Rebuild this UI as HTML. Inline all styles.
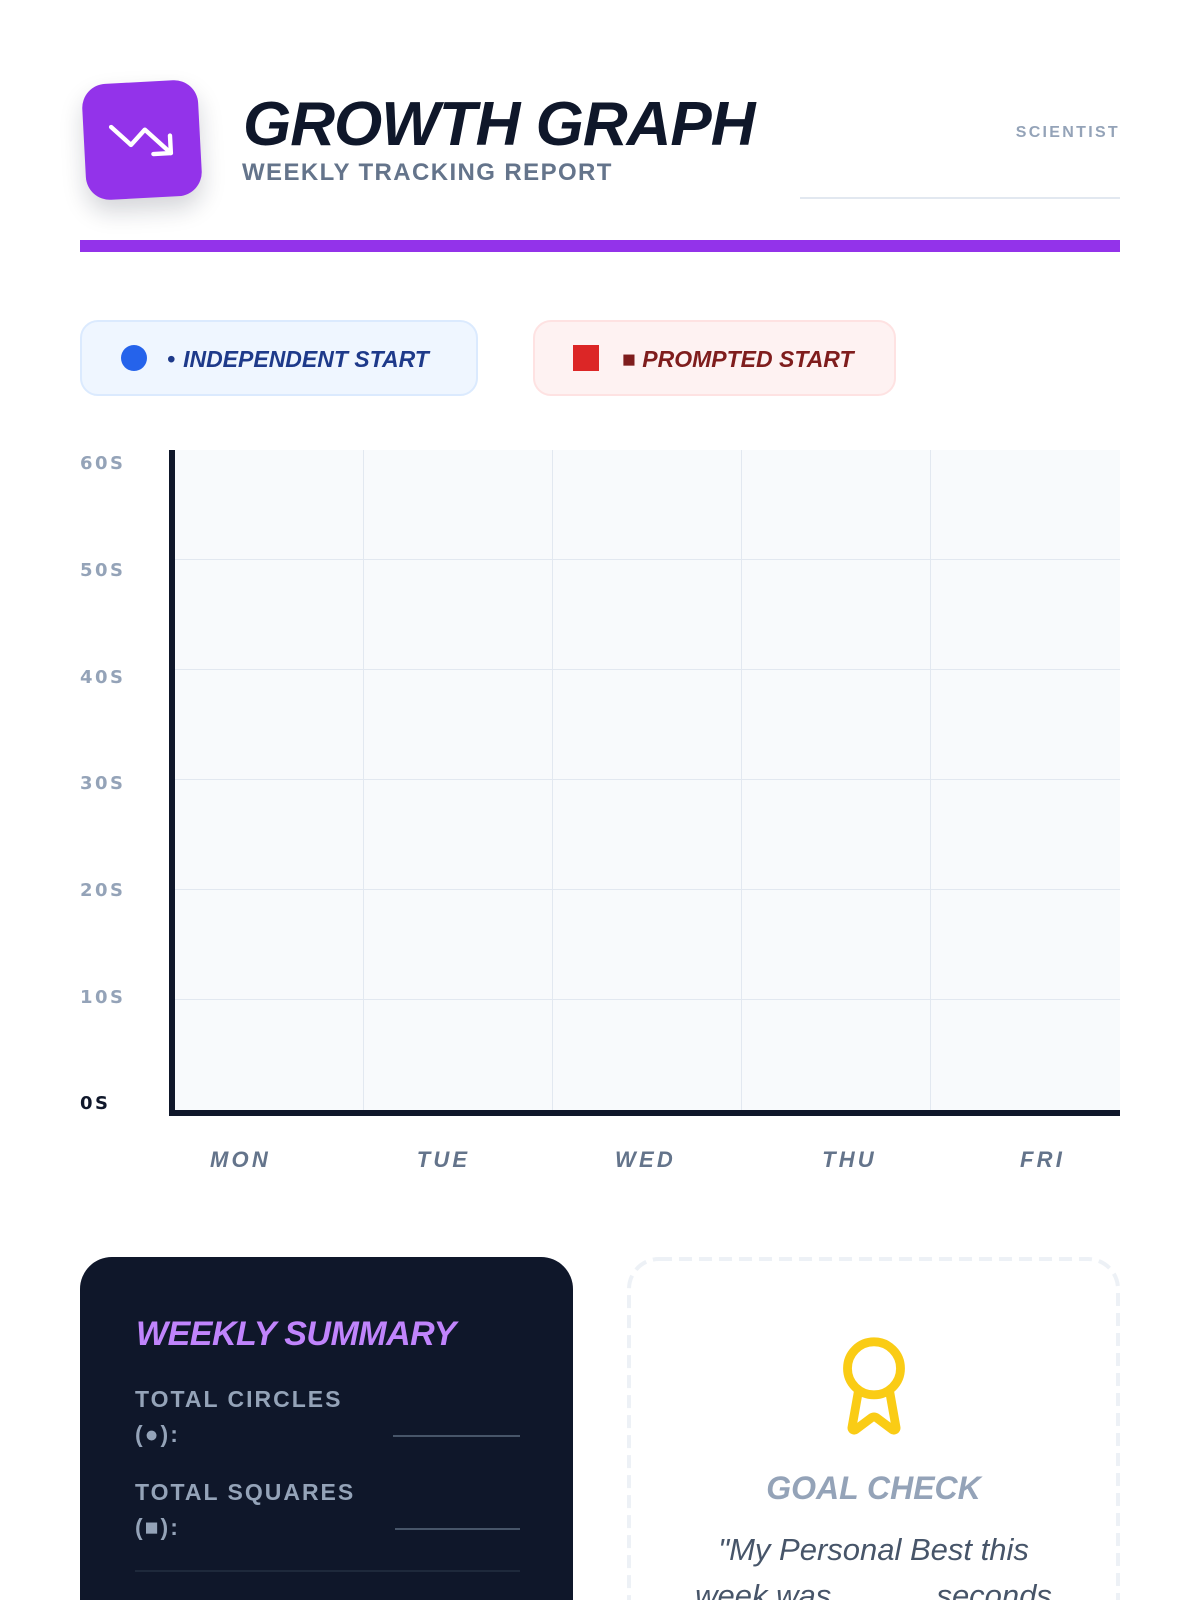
<!DOCTYPE html>
<html>
<head>
<meta charset="utf-8">
<style>
*{box-sizing:border-box;margin:0;padding:0}
html,body{width:1200px;height:1600px;overflow:hidden;background:#ffffff}
body{position:relative;font-family:"Liberation Sans",sans-serif}
#wrap{position:absolute;left:0;top:0;width:1200px;height:1600px;overflow:hidden}
.a{position:absolute;white-space:nowrap;line-height:1}
.hg{position:absolute;left:175px;width:945px;height:1px;background:#e2e8f0}
.vg{position:absolute;top:450px;width:1px;height:660px;background:#e2e8f0}
.yl{position:absolute;left:80px;font-family:"DejaVu Sans","Liberation Sans",sans-serif;font-weight:700;font-size:18px;letter-spacing:2.5px;color:#94a3b8;line-height:1;white-space:nowrap}
.xl{position:absolute;top:1149px;width:120px;text-align:center;padding-left:3px;font-weight:700;font-style:italic;font-size:22px;letter-spacing:3.2px;color:#64748b;line-height:1;white-space:nowrap}
.lab{position:absolute;left:135px;font-weight:700;font-size:23px;letter-spacing:2px;line-height:34.5px;color:#94a3b8;white-space:nowrap}
</style>
</head>
<body>
<div id="wrap">

<!-- Header icon -->
<div class="a" style="left:84px;top:82px;width:116px;height:116px;border-radius:24px;background:#9333ea;transform:rotate(-3deg);box-shadow:0 12px 24px rgba(15,23,42,0.18)">
  <svg width="70" height="70" viewBox="0 0 24 24" style="position:absolute;left:22px;top:23px" fill="none" stroke="#ffffff" stroke-width="1.5" stroke-linecap="round" stroke-linejoin="round">
    <polyline points="22 17 13.5 8.5 8.5 13.5 2 7"/>
    <polyline points="16 17 22 17 22 11"/>
  </svg>
</div>

<!-- Title -->
<div class="a" style="left:243px;top:94px;font-size:62px;font-weight:700;font-style:italic;letter-spacing:-1px;color:#0f172a">GROWTH GRAPH</div>
<div class="a" style="left:242px;top:161px;font-size:24px;font-weight:700;letter-spacing:1.4px;color:#64748b">WEEKLY TRACKING REPORT</div>

<!-- Scientist -->
<div class="a" style="right:80px;top:125px;font-size:16px;font-weight:700;letter-spacing:2.3px;color:#94a3b8;text-align:right">SCIENTIST</div>
<div class="a" style="left:800px;top:197px;width:320px;height:2px;background:#e2e8f0"></div>

<!-- Purple bar -->
<div class="a" style="left:80px;top:240px;width:1040px;height:12px;background:#9333ea"></div>

<!-- Legend pills -->
<div class="a" style="left:80px;top:320px;width:398px;height:76px;border-radius:18px;background:#eff6ff;border:2px solid #dbeafe"></div>
<div class="a" style="left:121px;top:345px;width:26px;height:26px;border-radius:50%;background:#2563eb"></div>
<div class="a" style="left:167px;top:348px;font-size:23px;font-weight:700;font-style:italic;color:#1e3a8a"><span style="margin-right:8px">•</span>INDEPENDENT START</div>

<div class="a" style="left:533px;top:320px;width:363px;height:76px;border-radius:18px;background:#fef2f2;border:2px solid #fee2e2"></div>
<div class="a" style="left:573px;top:345px;width:26px;height:26px;background:#dc2626"></div>
<div class="a" style="left:622px;top:348px;font-size:23px;font-weight:700;font-style:italic;color:#7f1d1d">■ PROMPTED START</div>

<!-- Chart plot -->
<div class="a" style="left:169px;top:450px;width:951px;height:666px;background:#f8fafc;border-left:6px solid #0f172a;border-bottom:6px solid #0f172a"></div>
<div class="hg" style="top:559px"></div>
<div class="hg" style="top:669px"></div>
<div class="hg" style="top:779px"></div>
<div class="hg" style="top:889px"></div>
<div class="hg" style="top:999px"></div>
<div class="vg" style="left:363px"></div>
<div class="vg" style="left:552px"></div>
<div class="vg" style="left:741px"></div>
<div class="vg" style="left:930px"></div>

<!-- Y labels -->
<div class="yl" style="top:455.1px">60S</div>
<div class="yl" style="top:561.8px">50S</div>
<div class="yl" style="top:668.5px">40S</div>
<div class="yl" style="top:775.2px">30S</div>
<div class="yl" style="top:881.9px">20S</div>
<div class="yl" style="top:988.6px">10S</div>
<div class="yl" style="top:1095.3px;color:#0f172a">0S</div>

<!-- X labels -->
<div class="xl" style="left:179px">MON</div>
<div class="xl" style="left:382px">TUE</div>
<div class="xl" style="left:584px">WED</div>
<div class="xl" style="left:788px">THU</div>
<div class="xl" style="left:981px">FRI</div>

<!-- Weekly summary card -->
<div class="a" style="left:80px;top:1257px;width:493px;height:343px;border-radius:32px 32px 0 0;background:#0f172a"></div>
<div class="a" style="left:136px;top:1317px;font-size:34px;font-weight:700;font-style:italic;letter-spacing:-0.5px;color:#c084fc">WEEKLY SUMMARY</div>
<div class="lab" style="top:1382px">TOTAL CIRCLES<br>(●):</div>
<div class="a" style="left:393px;top:1435px;width:127px;height:2px;background:#475569"></div>
<div class="lab" style="top:1475px">TOTAL SQUARES<br>(■):</div>
<div class="a" style="left:395px;top:1528px;width:125px;height:2px;background:#475569"></div>
<div class="a" style="left:135px;top:1570px;width:385px;height:2px;background:#1e293b"></div>

<!-- Goal check card -->
<svg class="a" style="left:627px;top:1257px" width="493" height="343" viewBox="0 0 493 343">
  <rect x="2" y="2" width="489" height="440" rx="30" ry="30" fill="none" stroke="#edf1f6" stroke-width="4" stroke-dasharray="13 7"/>
</svg>
<svg class="a" style="left:821px;top:1333px" width="106" height="106" viewBox="0 0 24 24" fill="none" stroke="#facc15" stroke-width="2" stroke-linecap="round" stroke-linejoin="round">
  <circle cx="12" cy="8" r="6"/>
  <path d="m15.477 12.89 1.515 8.526a.5.5 0 0 1-.81.47l-3.58-2.687a1 1 0 0 0-1.197 0l-3.586 2.686a.5.5 0 0 1-.81-.469l1.514-8.526"/>
</svg>
<div class="a" style="left:627px;top:1472px;width:493px;text-align:center;font-size:32px;font-weight:700;font-style:italic;color:#94a3b8">GOAL CHECK</div>
<div class="a" style="left:627px;top:1526.5px;width:493px;height:73px;overflow:hidden;text-align:center;font-size:31px;font-style:italic;line-height:46px;color:#475569">"My Personal Best this<br>week was <span style="display:inline-block;width:88px;height:1px"></span> seconds</div>

</div>
</body>
</html>
